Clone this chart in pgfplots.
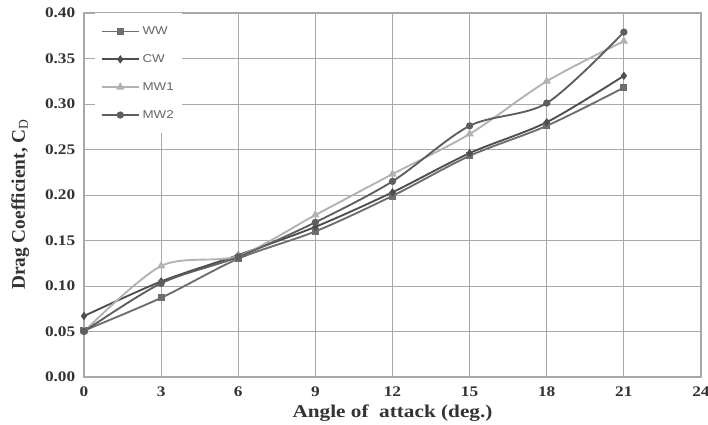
\documentclass[border=0pt]{standalone}
\usepackage{fontspec}
\setmainfont{Liberation Serif}
\newfontfamily\wideserif[FakeStretch=1.18]{Liberation Serif}
\newfontfamily\legfont[FakeStretch=1.18]{Liberation Sans}
\usepackage{pgfplots}
\pgfplotsset{compat=1.18}
\definecolor{cWW}{HTML}{6E6E6E}
\definecolor{cCW}{HTML}{4E4E4E}
\definecolor{cMW1}{HTML}{B2B2B2}
\definecolor{cMW2}{HTML}{5E5E5E}
\definecolor{gridc}{HTML}{A8A8A8}
\begin{document}
\begin{tikzpicture}
\begin{axis}[
  scale only axis,
  width=462.75pt, height=273pt,
  xmin=0, xmax=24, ymin=0, ymax=0.40,
  xtick={0,3,...,24},
  ytick={0,0.05,...,0.401},
  grid=major,
  major grid style={draw=gridc, line width=0.6pt},
  axis line style={draw=gridc, line width=0.8pt},
  major tick length=0pt,
  tick label style={font=\fontsize{11}{13}\selectfont\wideserif\bfseries, text=black!80},
  /pgf/number format/assume math mode=true,
  yticklabel style={/pgf/number format/.cd, fixed, fixed zerofill, precision=2},
  yticklabel shift=3pt,
  xticklabel shift=4pt,
  xlabel={Angle of\ \ attack (deg.)},
  ylabel={Drag Coefficient, C$_{\mathrm{D}}$},
  xlabel style={font=\fontsize{13.5}{15}\selectfont\wideserif\bfseries, text=black!80, yshift=1pt},
  ylabel style={font=\fontsize{14.5}{16}\selectfont\bfseries, text=black!80, yshift=5pt, xshift=-7pt},
  legend style={at={(0.018,1)}, anchor=north west, draw=none, fill=white,
    font=\fontsize{8.5}{10}\selectfont\legfont, text=black!60,
    row sep=9.5pt, inner xsep=4pt, inner ysep=8pt},
  legend cell align=left,
  legend image code/.code={\draw[#1] (0pt,0pt) -- (28pt,0pt); \draw[#1, mark repeat=2, mark phase=2] plot coordinates {(0pt,0pt) (14pt,0pt) (28pt,0pt)};},
  every axis plot/.append style={line width=1.4pt, smooth, tension=0.5},
]
\addplot[color=cWW, mark=square*, mark size=2pt, mark options={solid}] coordinates {
(0,0.051) (3,0.087) (6,0.130) (9,0.160) (12,0.199) (15,0.243) (18,0.276) (21,0.318)};
\addlegendentry{WW}
\addplot[color=cCW, mark=diamond*, mark size=2pt] coordinates {
(0,0.067) (3,0.105) (6,0.134) (9,0.165) (12,0.203) (15,0.246) (18,0.280) (21,0.331)};
\addlegendentry{CW}
\addplot[color=cMW1, mark=triangle*, mark size=2.3pt] coordinates {
(0,0.050) (3,0.122) (6,0.133) (9,0.178) (12,0.223) (15,0.267) (18,0.325) (21,0.369)};
\addlegendentry{MW1}
\addplot[color=cMW2, mark=*, mark size=2pt] coordinates {
(0,0.050) (3,0.103) (6,0.132) (9,0.170) (12,0.215) (15,0.276) (18,0.301) (21,0.379)};
\addlegendentry{MW2}
\end{axis}
\pgfresetboundingbox
\path[use as bounding box] (current axis.south west) ++(-63pt,-36pt) rectangle ++(531pt,318.75pt);
\end{tikzpicture}
\end{document}
